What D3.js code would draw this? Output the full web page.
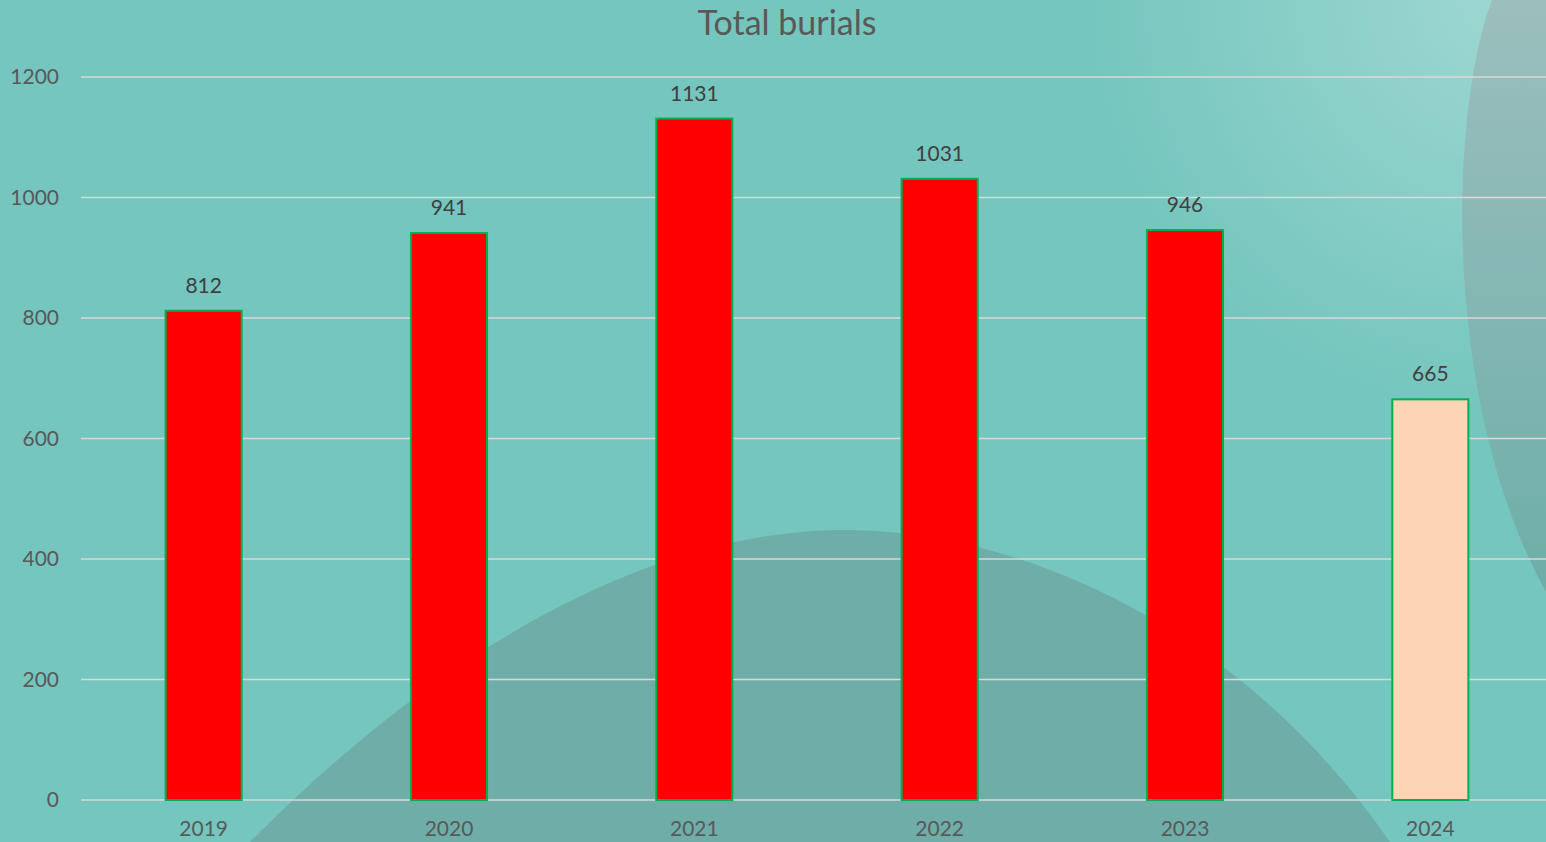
<!DOCTYPE html>
<html lang="en">
<head>
<meta charset="UTF-8">
<title>Total burials</title>
<script src="https://d3js.org/d3.v7.min.js"></script>
<style>
    body { margin: 0; padding: 0; overflow: hidden; background: #74c6be; }
    svg { display: block; font-family: Lato, "Open Sans", sans-serif; }
</style>
</head>
<body>
<svg id="chart" width="1546" height="842"></svg>
<script>
const years = ['2019', '2020', '2021', '2022', '2023', '2024'];
const burials = [812, 941, 1131, 1031, 946, 665];
const barColors = ['#ff0000', '#ff0000', '#ff0000', '#ff0000', '#ff0000', '#fcd5b5'];
const yTicks = [0, 200, 400, 600, 800, 1000, 1200];

const width = 1546, height = 842;
const margin = { top: 77, right: -7, bottom: 42, left: 81 };

const svg = d3.select('#chart');
const defs = svg.append('defs');

// background decoration
const glow = defs.append('radialGradient').attr('id', 'glow')
    .attr('cx', 1500).attr('cy', 0).attr('r', 420).attr('gradientUnits', 'userSpaceOnUse');
glow.append('stop').attr('offset', '0%').attr('stop-color', '#fff').attr('stop-opacity', 0.3);
glow.append('stop').attr('offset', '100%').attr('stop-color', '#fff').attr('stop-opacity', 0);

const sideGrad = defs.append('linearGradient').attr('id', 'side')
    .attr('x1', 0).attr('y1', 0).attr('x2', 0).attr('y2', 1);
sideGrad.append('stop').attr('offset', '0%').attr('stop-color', '#9bbfbd');
sideGrad.append('stop').attr('offset', '100%').attr('stop-color', '#6eaea8');

svg.append('rect').attr('width', width).attr('height', height).attr('fill', '#74c6be');
svg.append('rect').attr('width', width).attr('height', height).attr('fill', 'url(#glow)');
svg.append('path')
    .attr('d', 'M1492,0 C1450,110 1440,400 1546,592 L1546,0 Z')
    .attr('fill', 'url(#side)');
svg.append('path')
    .attr('d', 'M250,842 C480,610 690,528 850,530 C1040,533 1250,640 1390,842 Z')
    .attr('fill', '#6fada8');

const x = d3.scaleBand()
    .domain(years)
    .range([margin.left, width - margin.right])
    .paddingInner(0.69)
    .paddingOuter(0.345);

const y = d3.scaleLinear()
    .domain([0, 1200])
    .range([height - margin.bottom, margin.top]);

// gridlines
svg.append('g')
    .selectAll('line')
    .data(yTicks)
    .enter().append('line')
    .attr('x1', margin.left)
    .attr('x2', width)
    .attr('y1', d => y(d))
    .attr('y2', d => y(d))
    .attr('stroke', '#d9d9d9')
    .attr('stroke-width', 1.5);

// y axis labels
svg.append('g')
    .attr('transform', `translate(${margin.left - 22},0)`)
    .call(d3.axisLeft(y).tickValues(yTicks).tickFormat(d3.format('d')).tickSize(0).tickPadding(0))
    .call(g => g.select('.domain').remove())
    .call(g => g.selectAll('text')
        .attr('font-size', 21)
        .attr('fill', '#595959')
        .attr('font-family', 'Lato, "Open Sans", sans-serif'));

// bars
svg.append('g')
    .selectAll('rect')
    .data(years)
    .enter().append('rect')
    .attr('x', d => x(d))
    .attr('y', (d, i) => y(burials[i]))
    .attr('width', x.bandwidth())
    .attr('height', (d, i) => y(0) - y(burials[i]))
    .attr('fill', (d, i) => barColors[i])
    .attr('stroke', '#00b050')
    .attr('stroke-width', 2);

// value labels
svg.append('g')
    .selectAll('text')
    .data(years)
    .enter().append('text')
    .attr('x', d => x(d) + x.bandwidth() / 2)
    .attr('y', (d, i) => y(burials[i]) - 18)
    .attr('text-anchor', 'middle')
    .attr('font-size', 21)
    .attr('fill', '#404040')
    .text((d, i) => burials[i]);

// x axis labels
svg.append('g')
    .attr('transform', `translate(0,${y(0)})`)
    .call(d3.axisBottom(x).tickSize(0).tickPadding(21))
    .call(g => g.select('.domain').remove())
    .call(g => g.selectAll('text')
        .attr('font-size', 21)
        .attr('fill', '#595959')
        .attr('dy', '0.71em')
        .attr('font-family', 'Lato, "Open Sans", sans-serif'));

// title
svg.append('text')
    .attr('x', 787)
    .attr('y', 35)
    .attr('text-anchor', 'middle')
    .attr('font-size', 34)
    .attr('fill', '#595959')
    .text('Total burials');
</script>
</body>
</html>
